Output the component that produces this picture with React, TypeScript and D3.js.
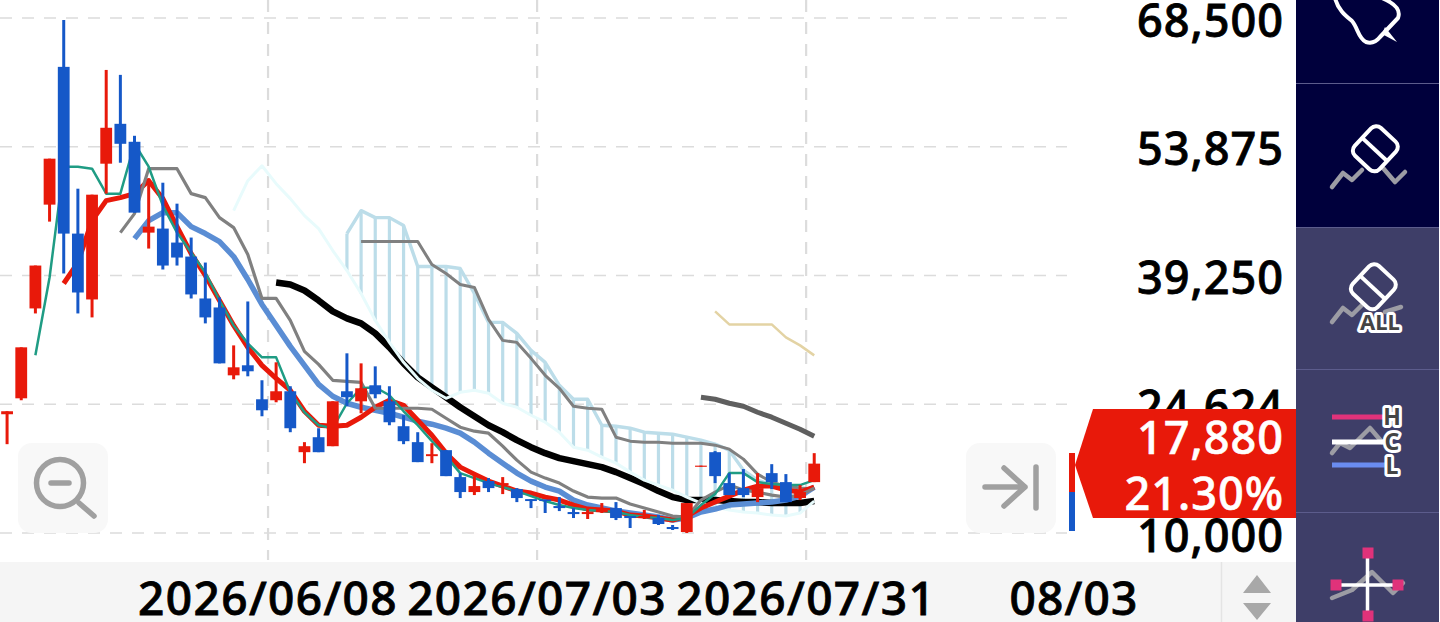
import React, { useEffect, useRef } from 'react';
import * as d3 from 'd3';

// prices, one entry per daily bar
const opens = [23490, 25300, 35510, 47300, 62950, 44010, 36530, 51950, 56480, 54440, 44120, 44580, 42990, 41400, 36640, 35620, 27910, 29050, 25190, 25080, 26100, 19180, 20880, 19860, 26100, 24960, 26780, 24960, 22130, 20320, 18730, 19410, 16350, 14650, 15900, 15440, 14990, 13850, 13800, 13060, 12380, 12150, 12380, 12830, 11930, 11700, 11700, 10680, 10110, 17520, 19180, 15670, 15100, 14080, 16800, 15780, 13970, 15780];
const highs = [23830, 31090, 40380, 52520, 68270, 49110, 48430, 62600, 62040, 55120, 50250, 49790, 47410, 43560, 40720, 36760, 31310, 36300, 27350, 29390, 26670, 20320, 21900, 24960, 30410, 29270, 28930, 26670, 23380, 21450, 20200, 19410, 16800, 16460, 16240, 16350, 15100, 13850, 13800, 14080, 12830, 12950, 13400, 13510, 11930, 12610, 12040, 10910, 13400, 17650, 19300, 16800, 17260, 16800, 17820, 16690, 15440, 19070];
const lows = [20090, 25080, 34940, 45370, 39480, 34940, 34490, 48550, 52060, 46390, 42310, 39930, 40380, 36640, 33810, 29270, 27460, 27800, 23260, 24850, 21450, 17930, 19180, 19860, 24400, 23600, 25300, 22240, 20090, 18050, 17930, 16460, 13970, 14310, 14650, 14420, 13510, 12830, 12270, 12490, 11700, 11590, 12270, 11470, 10570, 11590, 10910, 10340, 10000, 17520, 15670, 14310, 14080, 13510, 14990, 13510, 13740, 15780];
const closes = [23830, 31090, 40380, 52520, 44010, 37320, 48430, 56030, 54210, 46390, 44800, 40380, 41290, 37100, 34490, 29270, 28820, 28370, 23940, 26100, 21900, 19860, 19180, 24960, 25420, 26440, 25760, 22580, 20430, 18050, 18950, 16460, 14650, 15330, 15100, 15670, 13970, 13630, 13630, 12830, 12150, 12380, 12830, 11700, 11700, 11930, 11020, 10450, 13400, 17650, 16460, 14310, 14310, 15100, 15780, 13510, 14650, 17880];

// moving averages, each begins at its own bar
const tealStart = 2;
const tealLine = [30180, 39023, 51607, 51607, 51380, 48546, 48546, 54214, 51607, 47185, 44124, 41857, 39589, 36415, 33581, 31540, 29953, 29953, 25985, 23718, 22244, 21904, 24738, 26438, 26552, 25645, 23831, 22244, 20430, 18729, 16802, 16235, 15668, 15214, 14761, 14194, 13628, 13174, 12834, 12607, 12494, 12381, 12041, 11814, 11700, 11474, 11700, 13174, 14421, 16802, 16802, 15781, 15554, 15441, 15441, 16008];
const redStart = 4;
const redLine = [38342, 40723, 45485, 47752, 48092, 48546, 50019, 47979, 44804, 41743, 39249, 36415, 33581, 31087, 29046, 27572, 26212, 23831, 22244, 22130, 22244, 23151, 24284, 25078, 24511, 22811, 21110, 19069, 17482, 16688, 15895, 15328, 14761, 14534, 14081, 13741, 13174, 12720, 12607, 12494, 12041, 11927, 11700, 11474, 11927, 12834, 13514, 14194, 14874, 15328, 15328, 14874, 14648, 15215];
const blueStart = 9;
const blueLine = [43444, 45485, 46391, 46391, 44804, 44011, 43104, 41403, 38795, 35961, 33581, 31200, 29046, 26892, 25531, 24738, 24284, 23944, 23604, 23151, 22697, 22357, 21904, 21337, 20316, 19069, 17936, 16802, 15895, 15215, 14761, 13741, 13174, 12834, 12494, 12267, 12041, 11814, 11474, 11700, 12381, 12720, 13174, 13287, 13401, 13514, 13741, 14194, 15215];
const grayStart = 8;
const grayLine = [44124, 46278, 51380, 51380, 51380, 48546, 48092, 45824, 44691, 41630, 36642, 36642, 34148, 30632, 29159, 27346, 27232, 27119, 24171, 24171, 24171, 24171, 24058, 23037, 22017, 21564, 21337, 19863, 18276, 16915, 16235, 15668, 14761, 14081, 13968, 13968, 13287, 12834, 12381, 11927, 11814, 13741, 14648, 15441, 14874, 14648, 14308, 14081, 14308, 15101];
const slowGrayStart = 25;
const slowGrayLine = [43104, 43104, 43104, 43104, 43104, 40496, 39476, 38229, 37889, 34261, 31880, 31653, 29840, 27913, 26439, 24398, 24171, 24058, 20883, 20430, 20316, 20316, 20203, 20203, 20203, 19976, 19523, 18389, 16689, 15781, 15328, 15101, 14988];
const tanStart = 50;
const tanLine = [35168, 33694, 33694, 33694, 33694, 32220, 31313, 30179];
const darkStart = 49;
const darkLine = [25418, 25191, 24738, 24398, 23718, 23151, 22471, 21790, 20997];
const blackStart = 19;
const blackLine = [38455, 38229, 37548, 36415, 35168, 34374, 33807, 32673, 31087, 29272, 27685, 26552, 25418, 24284, 23264, 22244, 21450, 20543, 19750, 19069, 18503, 18163, 17822, 17482, 16915, 16235, 15555, 14761, 14081, 13741, 13741, 13741, 13628, 13514, 13514, 13401, 13401, 13401, 13628];

// ichimoku cloud edges
const cloudTopStart = 24;
const cloudTop = [44011, 46618, 45824, 45824, 44918, 40270, 40270, 40270, 40043, 37209, 33921, 33921, 32673, 30746, 29387, 26779, 25191, 25191, 22244, 22130, 21904, 21450, 21337, 21223, 20883, 20543, 20090, 19410, 17142, 16008, 15441, 15101, 14874];
const cloudBottomStart = 16;
const cloudBottom = [46618, 50019, 51720, 49680, 47979, 46051, 44577, 42083, 39816, 37209, 34148, 31653, 29387, 27572, 26212, 25305, 25985, 26212, 25872, 24738, 24284, 23377, 22584, 21450, 19750, 19410, 18616, 17936, 16915, 16008, 15441, 14874, 14081, 13401, 12947, 12607, 12381, 12267, 12041, 11927, 12267, 13628];

const priceTicks = [68500, 53875, 39250, 24624, 10000];
const dateTickBars = [19, 38, 57];
const dateTickLabels = ['2026/06/08', '2026/07/03', '2026/07/31'];
const currentPrice = '17,880';
const currentChange = '21.30%';
const nextDate = '08/03';

const RED = '#e8190a';
const BLUE = '#1558c8';
const FONT = '"Noto Sans", sans-serif';

const App: React.FC = () => {
  const svgRef = useRef<SVGSVGElement>(null);

  useEffect(() => {
    if (!svgRef.current) return;
    const width = 1440;
    const height = 622;

    d3.select(svgRef.current).selectAll('*').remove();
    const svg = d3.select(svgRef.current).attr('width', width).attr('height', height);

    const barIds = d3.range(opens.length);
    const xBand = d3.scaleBand<number>().domain(barIds).range([0, 821.3]);
    const xMid = (i: number) => (xBand(i) as number) + xBand.bandwidth() / 2;
    const gridX = (i: number) => (xBand(i) as number) - 1;
    const yScale = d3.scaleLinear().domain([10000, 68500]).range([533, 18]);

    svg.append('rect').attr('width', width).attr('height', height).attr('fill', '#fff');

    // grid
    svg
      .append('g')
      .selectAll('line')
      .data(priceTicks)
      .join('line')
      .attr('x1', 0)
      .attr('x2', 1067)
      .attr('y1', (d) => yScale(d))
      .attr('y2', (d) => yScale(d))
      .attr('stroke', '#dcdcdc')
      .attr('stroke-width', 1.5)
      .attr('stroke-dasharray', '12 10');
    svg
      .append('g')
      .selectAll('line')
      .data(dateTickBars)
      .join('line')
      .attr('x1', (d) => gridX(d))
      .attr('x2', (d) => gridX(d))
      .attr('y1', 0)
      .attr('y2', 560)
      .attr('stroke', '#dcdcdc')
      .attr('stroke-width', 2.2)
      .attr('stroke-dasharray', '12 10');

    const drawLine = (values: number[], start: number, color: string, w: number) => {
      const line = d3
        .line<number>()
        .x((_, i) => xMid(start + i))
        .y((d) => yScale(d));
      svg
        .append('path')
        .datum(values)
        .attr('fill', 'none')
        .attr('stroke', color)
        .attr('stroke-width', w)
        .attr('stroke-linejoin', 'round')
        .attr('d', line);
    };

    // cloud hatching
    svg
      .append('g')
      .selectAll('line')
      .data(cloudTop)
      .join('line')
      .attr('x1', (_, i) => xMid(cloudTopStart + i))
      .attr('x2', (_, i) => xMid(cloudTopStart + i))
      .attr('y1', (d) => yScale(d))
      .attr('y2', (_, i) => yScale(cloudBottom[cloudTopStart + i - cloudBottomStart]))
      .attr('stroke', '#bcdde9')
      .attr('stroke-width', 3.2);
    drawLine(cloudTop, cloudTopStart, '#bcdde9', 3.4);

    drawLine(tanLine, tanStart, '#e3d3a4', 2.5);
    drawLine(slowGrayLine, slowGrayStart, '#808080', 3);
    drawLine(darkLine, darkStart, '#5f5f5f', 5);
    drawLine(blackLine, blackStart, '#000', 6.5);
    // the pale edge runs over the black line where they cross
    drawLine(cloudBottom, cloudBottomStart, '#e8fbfc', 3);
    drawLine(blueLine, blueStart, '#5a8dd4', 5.5);
    drawLine(redLine, redStart, RED, 5);
    drawLine(grayLine, grayStart, '#808080', 3.2);
    drawLine(tealLine, tealStart, '#1f9c84', 2.5);

    // candles
    const candleColor = (i: number) => (closes[i] >= opens[i] ? RED : BLUE);
    const candles = svg.append('g');
    candles
      .selectAll('line')
      .data(barIds)
      .join('line')
      .attr('x1', (i) => xMid(i))
      .attr('x2', (i) => xMid(i))
      .attr('y1', (i) => yScale(highs[i]))
      .attr('y2', (i) => yScale(lows[i]))
      .attr('stroke', (i) => candleColor(i))
      .attr('stroke-width', 3);
    candles
      .selectAll('rect')
      .data(barIds)
      .join('rect')
      .attr('x', (i) => xMid(i) - 5.9)
      .attr('width', 11.8)
      .attr('y', (i) => yScale(Math.max(opens[i], closes[i])))
      .attr('height', (i) => Math.abs(yScale(opens[i]) - yScale(closes[i])))
      .attr('fill', (i) => candleColor(i));

    // zoom out button
    const zoomBtn = svg.append('g');
    zoomBtn.append('rect').attr('x', 18).attr('y', 443).attr('width', 90).attr('height', 90).attr('rx', 14).attr('fill', '#f8f8f8');
    zoomBtn.append('circle').attr('cx', 60).attr('cy', 483).attr('r', 23.5).attr('fill', 'none').attr('stroke', '#a0a0a0').attr('stroke-width', 5.5);
    zoomBtn.append('path').attr('d', 'M51 483H69M79 503L94 516').attr('stroke', '#a0a0a0').attr('stroke-width', 5.5).attr('stroke-linecap', 'round');

    // jump to latest button
    const jumpBtn = svg.append('g');
    jumpBtn.append('rect').attr('x', 966).attr('y', 443).attr('width', 90).attr('height', 90).attr('rx', 14).attr('fill', '#f8f8f8');
    jumpBtn
      .append('path')
      .attr('d', 'M985 487H1025M1004 468L1025 487L1004 506M1036 467V508')
      .attr('fill', 'none')
      .attr('stroke', '#a0a0a0')
      .attr('stroke-width', 5.5)
      .attr('stroke-linecap', 'round')
      .attr('stroke-linejoin', 'round');

    // bottom strip
    svg.append('rect').attr('x', 0).attr('y', 562).attr('width', 1296).attr('height', 60).attr('fill', '#f5f5f5');
    svg.append('line').attr('x1', 1221.5).attr('x2', 1221.5).attr('y1', 562).attr('y2', 622).attr('stroke', '#e4e4e4').attr('stroke-width', 1.5);
    svg.append('path').attr('d', 'M1257 575L1271 593H1243Z M1243 603H1271L1257 620Z').attr('fill', '#a8a8a8');

    // price axis
    const axis = svg
      .append('g')
      .attr('transform', 'translate(1284,0)')
      .call(d3.axisLeft(yScale).tickValues(priceTicks).tickSize(0).tickPadding(0).tickFormat(d3.format(',') as any));
    axis.select('.domain').remove();
    axis
      .selectAll('text')
      .attr('fill', '#000')
      .attr('stroke', '#000')
      .attr('stroke-width', 0.8)
      .attr('font-family', FONT)
      .attr('font-size', 45)
      .attr('font-weight', 500)
      .attr('letter-spacing', 1)
      .attr('dy', 18);

    // date labels
    svg
      .append('g')
      .selectAll('text')
      .data(dateTickBars)
      .join('text')
      .attr('x', (d) => gridX(d))
      .attr('y', 615)
      .attr('text-anchor', 'middle')
      .attr('font-family', FONT)
      .attr('font-size', 46)
      .attr('font-weight', 500)
      .attr('letter-spacing', 1.4)
      .attr('fill', '#000')
      .attr('stroke', '#000')
      .attr('stroke-width', 0.8)
      .text((_, i) => dateTickLabels[i]);
    svg
      .append('text')
      .attr('x', 1074)
      .attr('y', 615)
      .attr('text-anchor', 'middle')
      .attr('font-family', FONT)
      .attr('font-size', 46)
      .attr('font-weight', 500)
      .attr('letter-spacing', 1.2)
      .attr('stroke', '#000')
      .attr('stroke-width', 0.8)
      .text(nextDate);

    // current price marker
    svg.append('rect').attr('x', 1069).attr('y', 453).attr('width', 6).attr('height', 39).attr('fill', RED);
    svg.append('rect').attr('x', 1069).attr('y', 492).attr('width', 6).attr('height', 39).attr('fill', BLUE);
    svg.append('path').attr('d', 'M1093 409H1296V518H1093L1075 465Z').attr('fill', '#e8190a');
    [
      { label: currentPrice, y: 454 },
      { label: currentChange, y: 510 },
    ].forEach((t) => {
      svg
        .append('text')
        .attr('x', 1284)
        .attr('y', t.y)
        .attr('text-anchor', 'end')
        .attr('font-family', FONT)
        .attr('font-size', 45)
        .attr('font-weight', 500)
        .attr('letter-spacing', 1)
        .attr('fill', '#fff')
        .attr('stroke', '#fff')
        .attr('stroke-width', 0.6)
        .text(t.label);
    });

    // tool panel on the right
    const panel = svg.append('g');
    panel.append('rect').attr('x', 1296).attr('y', 0).attr('width', 143).attr('height', 228).attr('fill', '#00003c');
    panel.append('rect').attr('x', 1296).attr('y', 228).attr('width', 143).attr('height', 394).attr('fill', '#3e3e68');
    [83, 227, 369, 512].forEach((y) => {
      panel.append('line').attr('x1', 1296).attr('x2', 1439).attr('y1', y + 0.5).attr('y2', y + 0.5).attr('stroke', '#5c5c8c').attr('stroke-width', 1);
    });

    const zigzag = (d: string) =>
      panel.append('path').attr('d', d).attr('fill', 'none').attr('stroke', '#9c9ca4').attr('stroke-width', 4.5).attr('stroke-linecap', 'round').attr('stroke-linejoin', 'round');
    const white = (d: string, w = 4) =>
      panel.append('path').attr('d', d).attr('fill', 'none').attr('stroke', '#fff').attr('stroke-width', w).attr('stroke-linecap', 'round').attr('stroke-linejoin', 'round');
    const badge = (label: string, x: number, y: number, size: number) =>
      panel
        .append('text')
        .attr('x', x)
        .attr('y', y)
        .attr('text-anchor', 'middle')
        .attr('font-family', FONT)
        .attr('font-size', size)
        .attr('font-weight', 700)
        .attr('fill', '#444')
        .attr('stroke', '#fff')
        .attr('stroke-width', 6)
        .attr('stroke-linejoin', 'round')
        .attr('paint-order', 'stroke')
        .text(label);

    // pin
    white('M1335 -2C1338 10 1346 16 1352 21C1358 28 1358 38 1366 42C1372 44 1376 42 1380 37L1398 18C1401 10 1396 4 1382 -2');
    panel.append('path').attr('d', 'M1385 27L1397 42L1382 34Z').attr('fill', '#fff');

    // eraser
    zigzag('M1332 187L1343 173L1352 180L1362 170M1383 168L1395 182L1405 172');
    const eraser = (cx: number, cy: number) => {
      const g = panel.append('g').attr('transform', `translate(${cx},${cy}) rotate(43)`);
      g.append('rect').attr('x', -17).attr('y', -18).attr('width', 34).attr('height', 38).attr('rx', 7).attr('fill', 'none').attr('stroke', '#fff').attr('stroke-width', 4);
      g.append('line').attr('x1', -17).attr('x2', 17).attr('y1', 2).attr('y2', 2).attr('stroke', '#fff').attr('stroke-width', 4);
    };
    eraser(1376, 148);

    // erase all
    zigzag('M1332 322L1343 308L1352 315L1362 305M1385 312L1401 307');
    eraser(1374, 286);
    badge('ALL', 1380, 330, 22);

    // high / close / low
    zigzag('M1332 453L1340 443L1350 448L1370 428L1382 442');
    panel.append('line').attr('x1', 1332).attr('x2', 1385).attr('y1', 417).attr('y2', 417).attr('stroke', '#e0327a').attr('stroke-width', 5);
    panel.append('line').attr('x1', 1332).attr('x2', 1385).attr('y1', 442).attr('y2', 442).attr('stroke', '#fff').attr('stroke-width', 5);
    panel.append('line').attr('x1', 1332).attr('x2', 1385).attr('y1', 465).attr('y2', 465).attr('stroke', '#6a8cf0').attr('stroke-width', 5);
    badge('H', 1392, 425, 23);
    badge('C', 1392, 450, 23);
    badge('L', 1392, 474, 23);

    // crosshair
    zigzag('M1332 598L1352 590L1372 572L1393 593L1403 583');
    white('M1367.5 553V617M1336 585H1398', 3.5);
    [
      [1368, 553],
      [1336, 585],
      [1398, 585],
      [1368, 616],
    ].forEach(([x, y]) => {
      panel.append('rect').attr('x', x - 5.5).attr('y', y - 5.5).attr('width', 11).attr('height', 11).attr('fill', '#e0327a');
    });
  }, []);

  return (
    <>
      <style>{'body{margin:0}'}</style>
      <svg ref={svgRef} style={{ display: 'block' }}></svg>
    </>
  );
};

export default App;
